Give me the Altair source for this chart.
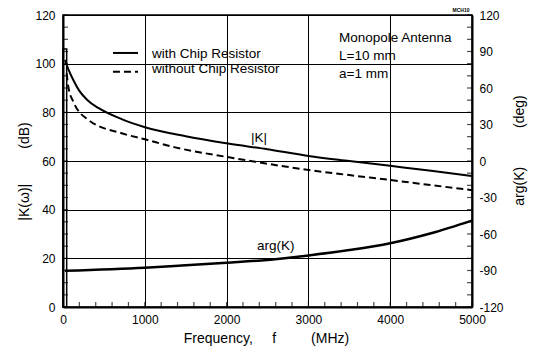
import altair as alt
import pandas as pd

# ---- data ----
freq_with = [24, 65, 126, 200, 300, 432, 717, 1002, 1500, 2000, 2500, 3000, 3500, 4000, 4500, 5000]
db_with = [101.5, 97.8, 93.3, 88.8, 85.0, 81.8, 77.2, 73.9, 70.2, 67.3, 64.8, 62.1, 60.0, 58.0, 56.0, 53.8]

freq_without = [45, 65, 126, 310, 717, 1002, 1370, 1980, 2350, 3000, 3500, 4000, 4500, 5000]
db_without = [96.0, 90.5, 84.4, 76.9, 71.4, 68.9, 65.6, 61.8, 59.7, 56.3, 54.2, 52.2, 50.1, 48.0]

freq_arg = [25, 1000, 1500, 2000, 2500, 3000, 3500, 4000, 4500, 5000]
deg_arg = [-90.2, -87.7, -85.7, -83.6, -81.3, -77.6, -73.2, -67.6, -59.4, -49.0]

spike_f = [0]
spike_f2 = [45]
spike_top = [106]

x_ticks = [0, 1000, 2000, 3000, 4000, 5000]
x_minor = [0, 200, 400, 600, 800, 1000, 1200, 1400, 1600, 1800, 2000, 2200, 2400, 2600, 2800,
           3000, 3200, 3400, 3600, 3800, 4000, 4200, 4400, 4600, 4800, 5000]
y_ticks = [0, 20, 40, 60, 80, 100, 120]
y_minor = [0, 5, 10, 15, 20, 25, 30, 35, 40, 45, 50, 55, 60, 65, 70, 75, 80, 85, 90, 95, 100, 105, 110, 115, 120]
r_ticks = [-120, -90, -60, -30, 0, 30, 60, 90, 120]
r_minor = [-120, -110, -100, -90, -80, -70, -60, -50, -40, -30, -20, -10, 0, 10, 20, 30, 40, 50, 60, 70, 80, 90, 100, 110, 120]

legend_f = [611, 917]
legend_solid_db = [104.4, 104.4]
legend_dash_db = [96.7, 96.7]

label_text = ["with Chip Resistor", "without Chip Resistor", "Monopole Antenna", "L=10 mm", "a=1 mm", "|K|", "arg(K)"]
label_f = [1088, 1088, 3374, 3374, 3374, 2298, 2372]
label_db = [102.2, 96.1, 109.0, 101.5, 94.0, 67.9, 23.4]

FONT = "Liberation Sans"
W, H = 409, 292

xs = alt.Scale(domain=[0, 5000], nice=False, zero=False)
ys = alt.Scale(domain=[0, 120], nice=False, zero=False)
rs = alt.Scale(domain=[-120, 120], nice=False, zero=False)

nb = "\u00a0"
plain = "'' + datum.value"

df_with = pd.DataFrame({"f": freq_with, "v": db_with})
df_without = pd.DataFrame({"f": freq_without, "v": db_without})
df_arg = pd.DataFrame({"f": freq_arg, "v": deg_arg})

x_axis = alt.Axis(
    values=x_ticks, labelExpr=plain, grid=True, gridColor="black", gridWidth=1, gridOpacity=1,
    tickSize=0, labelPadding=7, labelFlush=False, labelFont=FONT, labelFontSize=12,
    labelColor="black", domainColor="black", domainWidth=2,
    title="Frequency," + nb * 5 + "f" + nb * 9 + "(MHz)",
    titleFont=FONT, titleFontSize=14, titleFontWeight="normal", titleColor="black",
    titleX=203, titleY=31, titleBaseline="middle", titleAlign="center",
)
y_axis = alt.Axis(
    values=y_ticks, labelExpr=plain, grid=True, gridColor="black", gridWidth=1, gridOpacity=1,
    tickSize=0, labelPadding=8, labelFont=FONT, labelFontSize=12, labelColor="black",
    domainColor="black", domainWidth=2,
    title="|K(ω)|" + nb * 9 + "(dB)",
    titleFont=FONT, titleFontSize=14, titleFontWeight="normal", titleColor="black",
    titleAngle=270, titleX=-39, titleY=156, titleBaseline="middle", titleAlign="center",
)
r_axis = alt.Axis(
    orient="right", values=r_ticks, labelExpr=plain, grid=False, tickSize=0, labelPadding=7,
    labelFont=FONT, labelFontSize=12, labelColor="black",
    domainColor="black", domainWidth=2,
    title="arg(K)" + nb * 10 + "(deg)",
    titleFont=FONT, titleFontSize=14, titleFontWeight="normal", titleColor="black",
    titleAngle=270, titleX=47, titleY=135, titleBaseline="middle", titleAlign="center",
)


def X(field="f"):
    return alt.X(f"{field}:Q", scale=xs, axis=x_axis)


def Y(field="v"):
    return alt.Y(f"{field}:Q", scale=ys, axis=y_axis)


def R(field="v"):
    return alt.Y(f"{field}:Q", scale=rs, axis=r_axis)


solid = alt.Chart(df_with).mark_line(color="black", strokeWidth=2, interpolate="monotone").encode(x=X(), y=Y())
dashed = alt.Chart(df_without).mark_line(
    color="black", strokeWidth=2, strokeDash=[7, 4], interpolate="monotone").encode(x=X(), y=Y())
spike = alt.Chart(pd.DataFrame({"f": spike_f, "f2": spike_f2, "t": spike_top})).mark_rect(
    fill="white", fillOpacity=0, stroke="black", strokeWidth=1.5
).encode(x=X(), x2="f2:Q", y=Y("t"), y2=alt.datum(0))
leg_solid = alt.Chart(pd.DataFrame({"f": legend_f, "v": legend_solid_db})).mark_line(
    color="black", strokeWidth=2).encode(x=X(), y=Y())
leg_dash = alt.Chart(pd.DataFrame({"f": legend_f, "v": legend_dash_db})).mark_line(
    color="black", strokeWidth=2, strokeDash=[7, 4]).encode(x=X(), y=Y())
labels = alt.Chart(pd.DataFrame({"t": label_text, "f": label_f, "v": label_db})).mark_text(
    align="left", baseline="alphabetic", font=FONT, fontSize=13.5, color="black"
).encode(x=X(), y=Y(), text="t:N")
stamp = alt.Chart(pd.DataFrame({"t": ["MCH10"], "f": [4866], "v": [122]})).mark_text(
    align="center", baseline="middle", font=FONT, fontSize=5, fontWeight="bold", color="black", clip=False
).encode(x=X(), y=Y(), text="t:N")

x_mticks = alt.Chart(pd.DataFrame({"f": x_minor})).mark_tick(
    orient="vertical", size=5, thickness=1.2, color="black").encode(x=X(), y=alt.value(H - 2.5))
y_mticks = alt.Chart(pd.DataFrame({"v": y_minor})).mark_tick(
    orient="horizontal", size=5, thickness=1.2, color="black").encode(y=Y(), x=alt.value(2.5))

left = alt.layer(spike, dashed, solid, leg_solid, leg_dash, labels, stamp, x_mticks, y_mticks)

arg_line = alt.Chart(df_arg).mark_line(color="black", strokeWidth=2.5, interpolate="monotone").encode(x=X(), y=R())
r_mticks = alt.Chart(pd.DataFrame({"v": r_minor})).mark_tick(
    orient="horizontal", size=5, thickness=1.2, color="black").encode(y=R(), x=alt.value(W - 2.5))
right = alt.layer(arg_line, r_mticks)

chart = alt.layer(left, right).resolve_scale(y="independent").properties(
    width=W, height=H,
    autosize=alt.AutoSizeParams(type="none"),
    padding={"left": 63, "top": 15, "right": 64, "bottom": 48},
    background="white",
).configure_view(stroke="black", strokeWidth=1.5)

chart.save("out.html", embed_options={"renderer": "svg", "actions": False})
